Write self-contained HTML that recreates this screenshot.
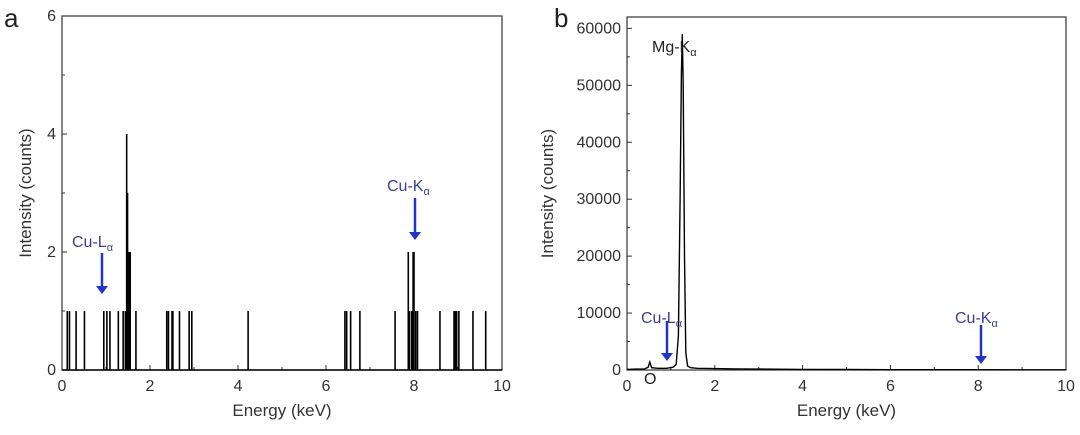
<!DOCTYPE html>
<html><head><meta charset="utf-8"><style>
body{margin:0;background:#fff;width:1080px;height:430px;overflow:hidden}
svg{font-family:"Liberation Sans",sans-serif}
</style></head><body>
<svg id="fig" width="1080" height="430"></svg>
<script>
// Panel a data
const aEnergies=[0.12,0.17,0.32,0.51,0.95,1.02,1.09,1.28,1.39,1.44,1.47,1.49,1.51,1.53,1.55,1.68,2.38,2.42,2.50,2.52,2.67,2.89,2.95,4.23,6.43,6.47,6.56,6.77,7.57,7.87,7.90,7.95,7.98,8.00,8.04,8.08,8.59,8.91,8.94,8.97,9.02,9.34,9.63];
const aCounts=[1,1,1,1,1,1,1,1,1,1,4,3,2,2,2,1,1,1,1,1,1,1,1,1,1,1,1,1,1,2,1,1,2,2,1,1,1,1,1,1,1,1,1];
const aXTicks=[0,2,4,6,8,10];
const aYTicks=[0,2,4,6];
// Panel b data
const bEnergies=[0,0.2,0.4,0.48,0.52,0.56,0.7,0.9,1.05,1.12,1.17,1.21,1.24,1.26,1.28,1.31,1.34,1.38,1.45,1.6,2.0,2.5,3,4,5,6,7,8,9,10];
const bCounts=[100,150,200,500,1400,400,300,300,500,1000,6000,30000,52000,59000,50000,20000,3000,700,400,300,250,200,150,100,80,60,50,60,40,30];
const bXTicks=[0,2,4,6,8,10];
const bYTicks=[0,10000,20000,30000,40000,50000,60000];

const svg=document.getElementById('fig');
const NS='http://www.w3.org/2000/svg';
function el(t,a,p){const e=document.createElementNS(NS,t);for(const k in a)e.setAttribute(k,a[k]);(p||svg).appendChild(e);return e;}
function txt(s,a,p){const e=el('text',a,p);e.textContent=s;return e;}

function panel(o){
  const g=el('g',{});
  
  
  const X=v=>o.x0+(v-o.xmin)/(o.xmax-o.xmin)*(o.x1-o.x0);
  const Y=v=>o.y0-(v-o.ymin)/(o.ymax-o.ymin)*(o.y0-o.y1);
  const fr=el('rect',{x:o.x0,y:o.y1,width:o.x1-o.x0,height:o.y0-o.y1,fill:'none',stroke:'#333','stroke-width':1.2},g);
  
  o.xt.forEach((v,i)=>{
    el('line',{x1:X(v),x2:X(v),y1:o.y0,y2:o.y0-5,stroke:'#333'},g);
    if(i<o.xt.length-1) el('line',{x1:X(v+1),x2:X(v+1),y1:o.y0,y2:o.y0-3,stroke:'#333'},g);
    const t=txt(String(v),{x:X(v),y:o.y0+21,'text-anchor':'middle','font-size':16,fill:'#333'},g);
    
  });
  o.yt.forEach((v,i)=>{
    el('line',{x1:o.x0,x2:o.x0+5,y1:Y(v),y2:Y(v),stroke:'#333'},g);
    if(i<o.yt.length-1) el('line',{x1:o.x0,x2:o.x0+3,y1:Y((v+o.yt[i+1])/2),y2:Y((v+o.yt[i+1])/2),stroke:'#333'},g);
    const t=txt(String(v),{x:o.x0-6,y:Y(v)+5,'text-anchor':'end','font-size':16,fill:'#333'},g);
    
  });
  const xt=txt('Energy (keV)',{x:(o.x0+o.x1)/2,y:o.y0+46,'text-anchor':'middle','font-size':17,fill:'#333'},g);
  
  const yx=o.ytx, yy=(o.y0+o.y1)/2;
  const yt=txt('Intensity (counts)',{x:yx,y:yy,'text-anchor':'middle','font-size':17,fill:'#333',transform:`rotate(-90 ${yx} ${yy})`},g);
  
  const pl=txt(o.letter,{x:o.lx,y:27,'font-size':26,fill:'#222'},g);
  
  return {g,X,Y};
}

const A=panel({name:'panel-a',x0:62,x1:502,y0:370,y1:16,xmin:0,xmax:10,ymin:0,ymax:6,xt:aXTicks,yt:aYTicks,ytx:31,letter:'a',lx:4});
aEnergies.forEach((e,i)=>{
  const l=el('line',{x1:A.X(e),x2:A.X(e),y1:A.Y(0),y2:A.Y(aCounts[i]),stroke:'#000','stroke-width':1.6},A.g);
  
  
});
el('line',{x1:62,x2:502,y1:370,y2:370,stroke:'#000','stroke-width':1.5},A.g);

const B=panel({name:'panel-b',x0:627,x1:1066,y0:370,y1:17,xmin:0,xmax:10,ymin:0,ymax:62000,xt:bXTicks,yt:bYTicks,ytx:553,letter:'b',lx:554});
const path=el('path',{d:bEnergies.map((e,i)=>(i?'L':'M')+B.X(e).toFixed(1)+','+B.Y(bCounts[i]).toFixed(1)).join(''),fill:'none',stroke:'#000','stroke-width':1.4},B.g);



function arrow(x,y1,y2,name){
  const g=el('g',{});
  
  
  el('line',{x1:x,x2:x,y1:y1,y2:y2-7,stroke:'#2233cc','stroke-width':2.5},g);
  el('polygon',{points:`${x-6},${y2-8} ${x+6},${y2-8} ${x},${y2}`,fill:'#2233cc'},g);
}
function label(s,sub,x,y,col,name){
  const t=el('text',{x:x,y:y,'font-size':16,fill:col});
  
  
  t.appendChild(document.createTextNode(s));
  const ts=el('tspan',{'font-size':11,dy:4},t);ts.textContent=sub;
}
const blue='#3a3f9a';
label('Cu-L','α',72,247,blue,'cu-l-alpha-label-a');arrow(102,253,294,'cu-l-alpha-arrow-a');
label('Cu-K','α',387,191,blue,'cu-k-alpha-label-a');arrow(415,198,240,'cu-k-alpha-arrow-a');
label('Mg-K','α',652,52,'#222','mg-k-alpha-label');
label('Cu-L','α',641,323,blue,'cu-l-alpha-label-b');arrow(667,321,361,'cu-l-alpha-arrow-b');
const o=txt('O',{x:644,y:384,'font-size':16,fill:'#222'});

label('Cu-K','α',955,323,blue,'cu-k-alpha-label-b');arrow(981,325,364,'cu-k-alpha-arrow-b');
</script>
</body></html>
